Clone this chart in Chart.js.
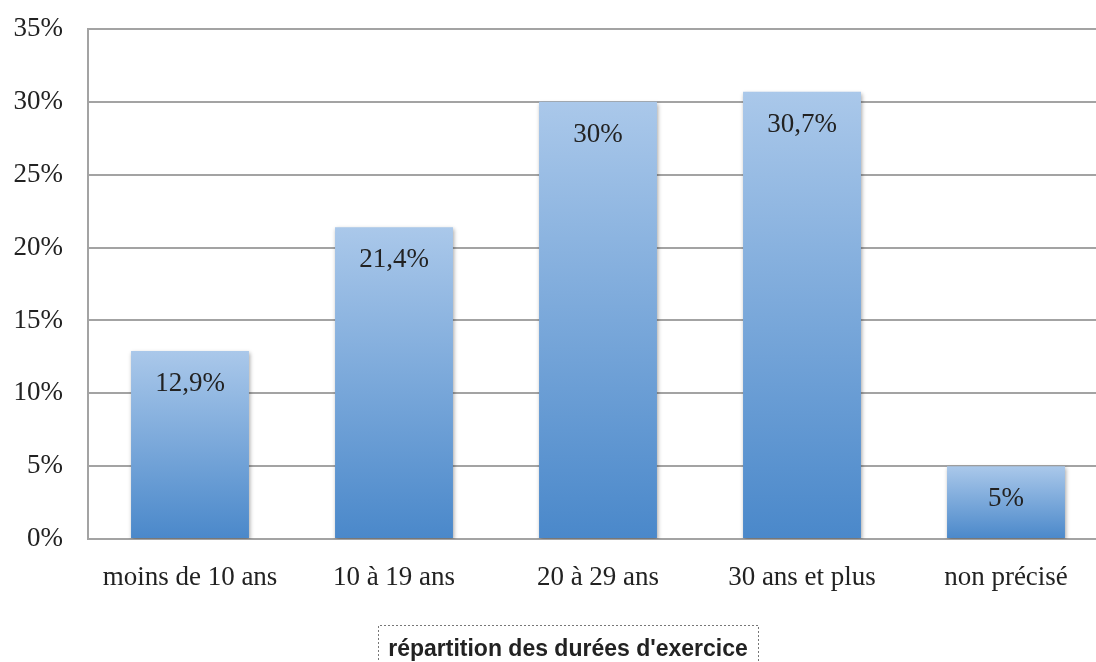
<!DOCTYPE html>
<html>
<head>
<meta charset="utf-8">
<script src="https://cdn.jsdelivr.net/npm/chart.js@4/dist/chart.umd.min.js"></script>
<style>
  html, body { margin: 0; padding: 0; background: #fff; overflow: hidden; }
  #wrap { width: 1096px; height: 662px; overflow: hidden; }
</style>
</head>
<body>
<div id="wrap"><canvas id="chart" width="1110" height="662"></canvas></div>
<script>
const categories = ["moins de 10 ans", "10 à 19 ans", "20 à 29 ans", "30 ans et plus", "non précisé"];
const shares = [12.9, 21.4, 30, 30.7, 5];
const shareLabels = ["12,9%", "21,4%", "30%", "30,7%", "5%"];
const axisTitle = "répartition des durées d'exercice";

const serif = "'Liberation Serif', 'Times New Roman', serif";
const gridColor = "#a3a3a3";

function barGradient(context) {
  const { chart, dataIndex } = context;
  const area = chart.chartArea;
  if (!area) return "#79a6db";
  const y = chart.scales.y;
  const top = y.getPixelForValue(shares[dataIndex]);
  const bottom = y.getPixelForValue(0);
  const g = chart.ctx.createLinearGradient(0, top, 0, bottom);
  g.addColorStop(0, "#aac8ea");
  g.addColorStop(1, "#4a88ca");
  return g;
}

const barShadow = {
  id: "barShadow",
  beforeDatasetsDraw(chart) {
    const ctx = chart.ctx;
    ctx.save();
    ctx.shadowColor = "rgba(0,0,0,0.35)";
    ctx.shadowBlur = 4;
    ctx.shadowOffsetX = 1;
    ctx.shadowOffsetY = 2;
  },
  afterDatasetsDraw(chart) {
    chart.ctx.restore();
  },
};

const barLabels = {
  id: "barLabels",
  afterDatasetsDraw(chart) {
    const ctx = chart.ctx;
    const meta = chart.getDatasetMeta(0);
    ctx.save();
    ctx.font = "27px " + serif;
    ctx.fillStyle = "#222";
    ctx.textAlign = "center";
    ctx.textBaseline = "middle";
    meta.data.forEach((bar, i) => {
      ctx.fillText(shareLabels[i], bar.x, bar.y + 33);
    });
    ctx.restore();
  },
};

const boxedTitle = {
  id: "boxedTitle",
  afterDraw(chart) {
    const ctx = chart.ctx;
    ctx.save();
    ctx.font = "bold 23px 'Liberation Sans', Arial, sans-serif";
    const w = ctx.measureText(axisTitle).width;
    const cx = 568;
    const left = Math.round(cx - w / 2 - 10) + 0.5;
    const right = Math.round(cx + w / 2 + 10) + 0.5;
    ctx.strokeStyle = "#777";
    ctx.lineWidth = 1;
    ctx.setLineDash([2, 2]);
    ctx.beginPath();
    ctx.moveTo(left, 680);
    ctx.lineTo(left, 625.5);
    ctx.lineTo(right, 625.5);
    ctx.lineTo(right, 680);
    ctx.stroke();
    ctx.setLineDash([]);
    ctx.fillStyle = "#222";
    ctx.textAlign = "center";
    ctx.textBaseline = "alphabetic";
    ctx.fillText(axisTitle, cx, 656);
    ctx.restore();
  },
};

new Chart(document.getElementById("chart"), {
  type: "bar",
  data: {
    labels: categories,
    datasets: [{
      data: shares,
      backgroundColor: barGradient,
      borderWidth: 0,
      barPercentage: 0.578,
      categoryPercentage: 1,
    }],
  },
  options: {
    responsive: false,
    animation: false,
    layout: { padding: { top: 29, right: 2, left: 0, bottom: 0 } },
    plugins: {
      legend: { display: false },
      tooltip: { enabled: false },
    },
    scales: {
      x: {
        grid: { display: false, drawTicks: false },
        border: { display: true, color: gridColor, width: 2 },
        ticks: {
          padding: 23,
          color: "#222",
          font: { family: serif, size: 27 },
          maxRotation: 0,
          autoSkip: false,
        },
        afterFit(scale) { scale.height = 123; },
      },
      y: {
        min: 0,
        max: 35,
        grid: { color: gridColor, lineWidth: 2, drawTicks: false },
        border: { display: true, color: gridColor, width: 2 },
        ticks: {
          stepSize: 5,
          padding: 25,
          color: "#222",
          font: { family: serif, size: 27 },
          callback: (v) => v + "%",
        },
        afterFit(scale) {
          scale.width = 88;
          scale.paddingTop = 0;
          scale.paddingBottom = 0;
        },
      },
    },
  },
  plugins: [barShadow, barLabels, boxedTitle],
});
</script>
</body>
</html>
